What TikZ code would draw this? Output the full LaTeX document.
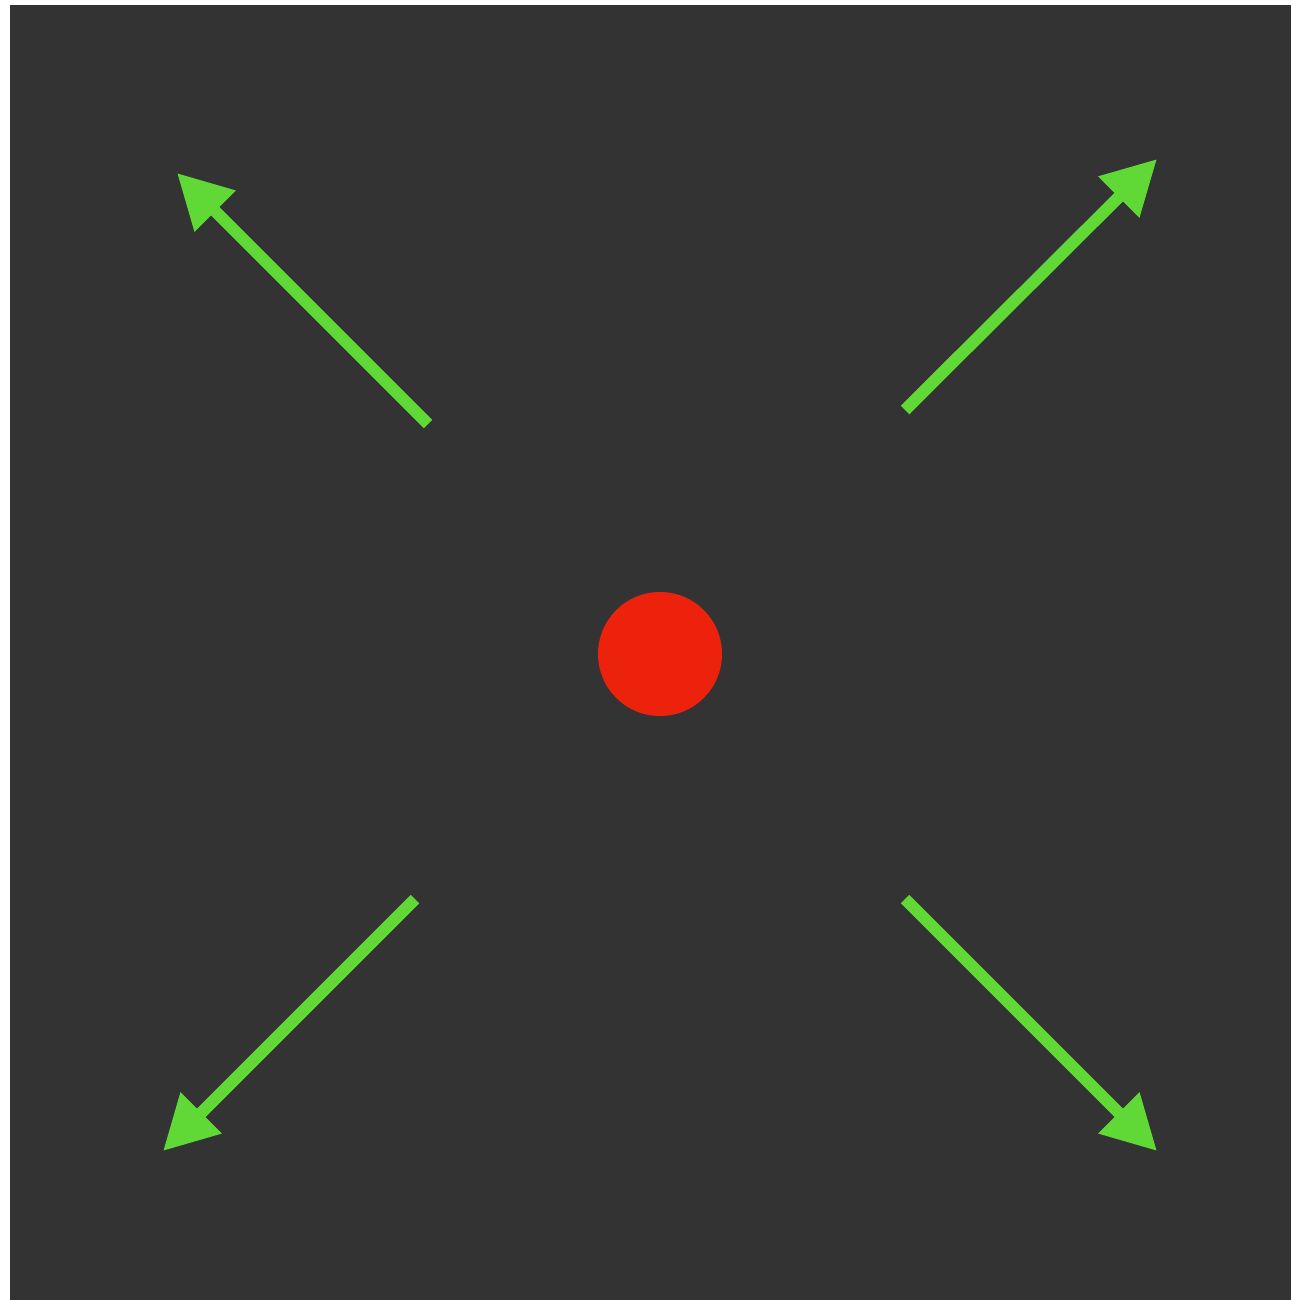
\documentclass[tikz,border=0pt]{standalone}
\usetikzlibrary{arrows.meta}
\definecolor{bg}{RGB}{51,51,51}
\definecolor{grn}{RGB}{96,217,55}
\definecolor{rd}{RGB}{237,34,13}
\begin{document}
\begin{tikzpicture}[x=0.02cm,y=-0.02cm,
  arr/.style={draw=grn,line width=0.24cm,-{Triangle[length=1.08cm,width=1.1cm]}}]
\useasboundingbox (0,0) rectangle (1291,1300);
\fill[bg] (10,5) rectangle (1291,1300);
\node[circle,fill=rd,minimum size=2.48cm,inner sep=0pt] (dot) at (660,654) {};
\coordinate (s1) at (428,424); \coordinate (t1) at (177,173);
\coordinate (s2) at (905,410); \coordinate (t2) at (1157,159);
\coordinate (s3) at (415,899); \coordinate (t3) at (163,1151);
\coordinate (s4) at (905,899); \coordinate (t4) at (1157,1151);
\draw[arr] (s1) -- (t1);
\draw[arr] (s2) -- (t2);
\draw[arr] (s3) -- (t3);
\draw[arr] (s4) -- (t4);
\end{tikzpicture}
\end{document}
